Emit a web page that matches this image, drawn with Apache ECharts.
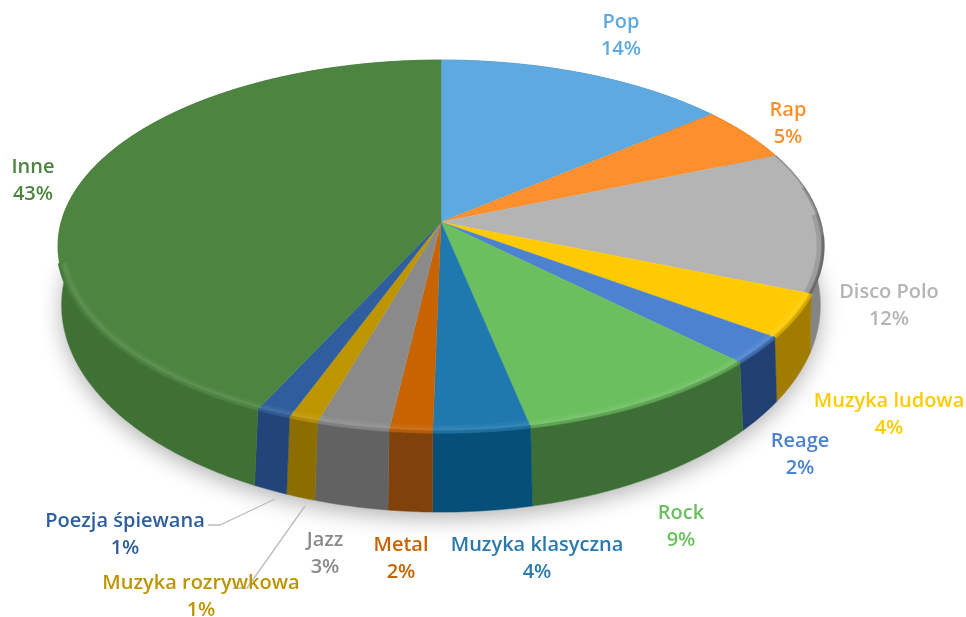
<!DOCTYPE html>
<html><head><meta charset="utf-8">
<style>html,body{margin:0;padding:0;background:#fff}#c{width:966px;height:617px;filter:blur(0.7px)}</style>
<script src="https://cdn.jsdelivr.net/npm/echarts@6/dist/echarts.min.js"></script>
</head><body><div id="c"></div>
<script>
var categories = ['Pop','Rap','Disco Polo','Muzyka ludowa','Reage','Rock','Muzyka klasyczna','Metal','Jazz','Muzyka rozrywkowa','Poezja śpiewana','Inne'];
var values = [14,4.8,12.3,3.8,2.4,9.4,3.6,1.6,2.7,1.1,1.3,43];
var topColors = ['#5EA9DF','#FD8F2D','#B4B4B4','#FFCB00','#4C82CF','#6BBF5E','#1F78AE','#C76300','#8A8A8A','#BD9500','#2E5E9D','#4C8440'];
var wallColors = ['#3F7DAA','#B9641C','#858585','#A07C00','#223F72','#3D6E35','#054F78','#80420A','#626262','#8C6E00','#224478','#3F7135'];
var labelColors = ['#5EA9DF','#FD8F2D','#B4B4B4','#FFCB00','#4C82CF','#6BBF5E','#2B7AAE','#C76300','#8A8A8A','#BD9500','#2E5E9D','#4C8440'];

// layout, separate from the data
var labelAnchor = [[621,36],[788,124],[889,306],[889,415],[800,455],[681,527],[537,559],[401,559],[325,554],[201,597],[125,535],[33,181]];
var leaders = [[[208,525],[220,525],[275,499]],[[233,588],[247,588],[305,506]]];
var topPlane = {x:441, y:222, a:379.8, b:182.9, k:-0.129};
var basePlane = {x:441, y:272, a:374.5, b:201.7, k:-0.16};
var total = values.reduce(function(s,v){return s+v;},0);
var starts = values.reduce(function(acc,v,i){acc.push(acc[i]+v);return acc;},[0]);
var frontFrom = Math.PI*0.5, frontTo = Math.PI*1.43;

function angle(v){return echarts.number.linearMap(v,[0,total],[0,Math.PI*2]);}
function project(p,t,r){
  var u=Math.sin(t)*r, v=-Math.cos(t)*r, d=1+p.k*v;
  return [p.x+p.a*u/d, p.y+p.b*v/d];
}
function arcBetween(p,t0,t1,r){
  var n=Math.max(2,Math.ceil((t1-t0)/0.012)), pts=[];
  for(var j=0;j<=n;j++) pts.push(project(p,t0+(t1-t0)*j/n,r));
  return pts;
}
function arc(p,i,r){return arcBetween(p,angle(starts[i]),angle(starts[i+1]),r);}
function frontArc(i,r){
  var t0=Math.max(angle(starts[i]),frontFrom), t1=Math.min(angle(starts[i+1]),frontTo);
  return arcBetween(topPlane,t0,t1,r);
}
function darkRim(i,from,r,alpha,width){
  var t0=angle(starts[i]), t1=angle(starts[i+1]);
  return {type:'polyline',shape:{points:arcBetween(topPlane,t0+(t1-t0)*from,t1,r)},
    style:{fill:null,stroke:'rgba(80,80,80,'+alpha+')',lineWidth:width}};
}

var chart = echarts.init(document.getElementById('c'),null,{renderer:'canvas'});
chart.setOption({
  animation:false,
  backgroundColor:'#fff',
  series:[
    {type:'custom',coordinateSystem:'none',silent:true,z:1,data:[total],
     renderItem:function(){
       var pts=[];
       for(var j=0;j<360;j++) pts.push(project(basePlane,j*Math.PI/180,1));
       return {type:'polygon',shape:{points:pts},style:{fill:'#fff',shadowBlur:22,shadowColor:'rgba(0,0,0,0.3)',shadowOffsetY:6}};
     }},
    {type:'custom',coordinateSystem:'none',silent:true,z:2,data:values,
     renderItem:function(params){
       var i=params.dataIndex;
       var pts=arc(topPlane,i,1).concat(arc(basePlane,i,1).reverse());
       return {type:'polygon',shape:{points:pts},style:{fill:wallColors[i],stroke:wallColors[i],lineWidth:0.5}};
     }},
    {type:'custom',coordinateSystem:'none',silent:true,z:3,data:values,
     renderItem:function(params){
       var i=params.dataIndex;
       var pts=[[topPlane.x,topPlane.y]].concat(arc(topPlane,i,1));
       return {type:'polygon',shape:{points:pts},style:{fill:topColors[i],stroke:topColors[i],lineWidth:0.4}};
     }},
    {type:'custom',coordinateSystem:'none',silent:true,z:4,data:values,
     renderItem:function(params){
       var i=params.dataIndex;
       if(i<2) return {type:'group',children:[]};
       if(i===2){
         return {type:'group',children:[
           darkRim(i,0,0.999,0.35,1.5),
           darkRim(i,0.25,0.996,0.3,3),
           darkRim(i,0.45,0.99,0.22,7),
           darkRim(i,0.6,0.998,0.4,3)
         ]};
       }
       var light=echarts.color.lift(topColors[i],0.14);
       var pts=frontArc(i,0.988), rim=frontArc(i,1.0);
       return {type:'group',children:[
         {type:'polyline',shape:{points:rim},style:{fill:null,stroke:echarts.color.lerp(0.5,[topColors[i],wallColors[i]]),lineWidth:3.5}},
         {type:'polyline',shape:{points:pts},style:{fill:null,stroke:echarts.color.modifyAlpha(light,0.3),lineWidth:8}},
         {type:'polyline',shape:{points:pts},style:{fill:null,stroke:echarts.color.modifyAlpha(light,0.55),lineWidth:3}}
       ]};
     }},
    {type:'custom',coordinateSystem:'none',silent:true,z:5,data:leaders,
     renderItem:function(params){
       return {type:'polyline',shape:{points:leaders[params.dataIndex]},style:{fill:null,stroke:'#BDBDBD',lineWidth:1.3}};
     }},
    {type:'custom',coordinateSystem:'none',silent:true,z:6,data:values,
     renderItem:function(params){
       var i=params.dataIndex;
       return {type:'text',style:{text:categories[i]+'\n'+Math.round(values[i])+'%',x:labelAnchor[i][0],y:labelAnchor[i][1],
         fill:labelColors[i],font:'600 20px "Open Sans"',lineHeight:27,align:'center',verticalAlign:'middle'}};
     }}
  ]
});
</script></body></html>
